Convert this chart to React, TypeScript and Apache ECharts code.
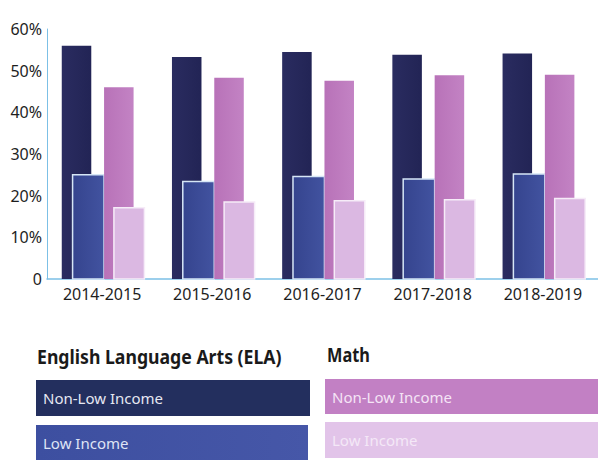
import React, { useEffect, useRef } from "react";
import * as echarts from "echarts";

const categories = ["2014-2015", "2015-2016", "2016-2017", "2017-2018", "2018-2019"];
const elaNonLow = [56.0, 53.3, 54.5, 53.8, 54.1];
const elaLow = [25.0, 23.4, 24.6, 24.0, 25.2];
const mathNonLow = [46.0, 48.3, 47.6, 48.9, 49.0];
const mathLow = [17.1, 18.5, 18.8, 19.0, 19.3];
const yTicks = [0, 10, 20, 30, 40, 50, 60];

const FONT = "'Noto Sans', sans-serif";

type BarDef = { name: string; data: number[]; off: number; w: number; fill: any; stroke?: string };

export default function App() {
  const ref = useRef<HTMLDivElement>(null);
  useEffect(() => {
    if (!ref.current) return;
    const chart = echarts.init(ref.current, null, { renderer: "svg" });
    const BAND = 112;
    const defs: BarDef[] = [
      {
        name: "ELA Non-Low Income",
        data: elaNonLow,
        off: -41,
        w: 30,
        fill: new echarts.graphic.LinearGradient(0, 0, 1, 0, [
          { offset: 0, color: "#2a2c60" },
          { offset: 1, color: "#222455" },
        ]),
      },
      {
        name: "ELA Low Income",
        data: elaLow,
        off: -30,
        w: 32,
        fill: new echarts.graphic.LinearGradient(0, 0, 1, 0, [
          { offset: 0, color: "#35448e" },
          { offset: 1, color: "#4253a0" },
        ]),
        stroke: "#d6e6f6",
      },
      {
        name: "Math Non-Low Income",
        data: mathNonLow,
        off: 2,
        w: 30,
        fill: new echarts.graphic.LinearGradient(0, 0, 1, 0, [
          { offset: 0, color: "#b872b8" },
          { offset: 1, color: "#c383c4" },
        ]),
      },
      {
        name: "Math Low Income",
        data: mathLow,
        off: 12,
        w: 31,
        fill: "#dbb8e2",
        stroke: "#f6ecf8",
      },
    ];

    const series = defs.map((d) => ({
      type: "custom",
      name: d.name,
      data: d.data.map((v, i) => [i, v]),
      renderItem: (params: any, api: any) => {
        const idx = api.value(0);
        const top = api.coord([idx, api.value(1)]);
        const base = api.coord([idx, 0]);
        const band = api.size([1, 0])[0];
        const x = base[0] + (d.off / BAND) * band;
        const w = (d.w / BAND) * band;
        return {
          type: "rect",
          shape: { x, y: top[1], width: w, height: base[1] - top[1] },
          style: {
            fill: d.fill,
            stroke: d.stroke || null,
            lineWidth: d.stroke ? 1.5 : 0,
          },
        };
      },
    }));

    const legendBox = (x: number, y: number, w: number, h: number, fill: any, label: string, color: string) => [
      { type: "rect", shape: { x, y, width: w, height: h }, style: { fill } },
      {
        type: "text",
        x: x + 7,
        y: y + h / 2,
        style: {
          text: label,
          fill: color,
          font: `15px 'Noto Sans', sans-serif`,
          verticalAlign: "middle",
        },
      },
    ];

    chart.setOption({
      animation: false,
      backgroundColor: "#ffffff",
      grid: { left: 47, top: 29, width: 560, height: 250, containLabel: false },
      xAxis: {
        type: "category",
        data: categories,
        axisLine: { show: true, lineStyle: { color: "#7cc0e6", width: 1.5 } },
        axisTick: { show: false },
        axisLabel: { color: "#1e1e1e", fontSize: 16, fontFamily: FONT, margin: 7 },
      },
      yAxis: {
        type: "value",
        min: yTicks[0],
        max: yTicks[yTicks.length - 1],
        interval: 10,
        axisLine: { show: true, lineStyle: { color: "#7cc0e6", width: 1 } },
        axisTick: { show: false },
        splitLine: { show: false },
        axisLabel: {
          color: "#1e1e1e",
          fontSize: 16,
          fontFamily: FONT,
          margin: 5,
          formatter: (v: number) => (v === 0 ? "0" : v + "%"),
        },
      },
      series,
      graphic: [
        {
          type: "text",
          x: 37,
          y: 356,
          scaleX: 0.93,
          originX: 0,
          style: {
            text: "English Language Arts (ELA)",
            fill: "#1a1a1a",
            font: `bold 19px 'Noto Sans', sans-serif`,
            verticalAlign: "middle",
          },
        },
        {
          type: "text",
          x: 327,
          y: 354,
          scaleX: 0.86,
          originX: 0,
          style: {
            text: "Math",
            fill: "#1a1a1a",
            font: `bold 19px 'Noto Sans', sans-serif`,
            verticalAlign: "middle",
          },
        },
        ...legendBox(36, 380, 274, 36, "#232f5e", "Non-Low Income", "#e6e8f2"),
        ...legendBox(36, 425, 272, 36,
          new echarts.graphic.LinearGradient(0, 0, 1, 0, [
            { offset: 0, color: "#3d4fa0" },
            { offset: 1, color: "#4657a8" },
          ]), "Low Income", "#dfe4f5"),
        ...legendBox(325, 379, 273, 35, "#c280c4", "Non-Low Income", "#f5e4f6"),
        ...legendBox(325, 422, 273, 36, "#e2c4e9", "Low Income", "#f4e8f7"),
      ],
    } as any);
    return () => chart.dispose();
  }, []);
  return <div ref={ref} style={{ position: "fixed", left: 0, top: 0, width: 598, height: 460 }} />;
}
